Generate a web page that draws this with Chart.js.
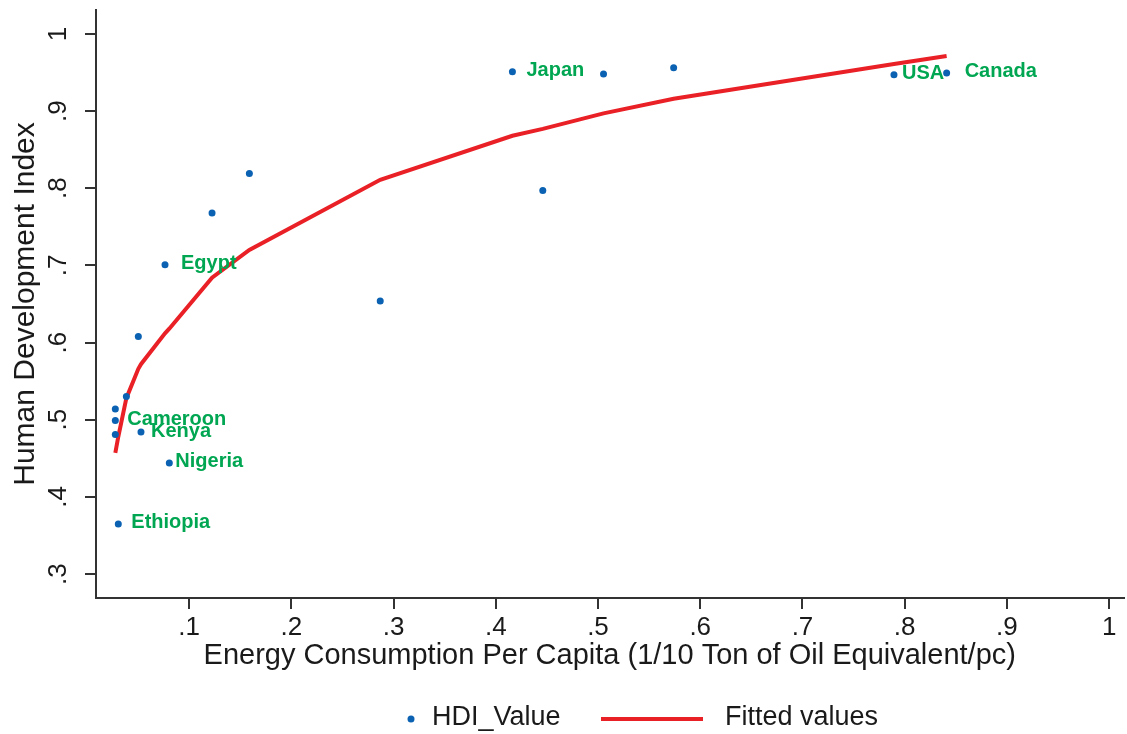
<!DOCTYPE html>
<html>
<head>
<meta charset="utf-8">
<title>HDI vs Energy Consumption</title>
<script src="https://cdn.jsdelivr.net/npm/chart.js@4.4.1/dist/chart.umd.min.js"></script>
<style>
  html, body { margin: 0; padding: 0; background: #fff; }
  #chart { display: block; background: #fff; }
</style>
</head>
<body>
<canvas id="chart" width="1127" height="734"></canvas>
<script>
// values
const energy = [0.0279, 0.0279, 0.0279, 0.0387, 0.0308, 0.053, 0.0807, 0.0504, 0.0765,
                0.1225, 0.159, 0.287, 0.4163, 0.446, 0.5054, 0.574, 0.7895, 0.841];
const hdi = [0.514, 0.499, 0.481, 0.530, 0.365, 0.484, 0.444, 0.608, 0.701,
             0.768, 0.819, 0.654, 0.951, 0.797, 0.948, 0.956, 0.947, 0.9495];
const country = ['', 'Cameroon', '', '', 'Ethiopia', 'Kenya', 'Nigeria', '', 'Egypt',
                 '', '', '', 'Japan', '', '', '', 'USA', 'Canada'];

// fitted line, read at each observed x
const fitEnergy = [0.0279, 0.0308, 0.0387, 0.0504, 0.053, 0.0765, 0.0807, 0.1225,
                   0.159, 0.287, 0.4163, 0.446, 0.5054, 0.574, 0.7895, 0.841];
const fitHdi = [0.457, 0.478, 0.528, 0.566, 0.572, 0.612, 0.618, 0.684,
                0.720, 0.811, 0.868, 0.877, 0.897, 0.916, 0.961, 0.9715];

const xTicks = [0.1, 0.2, 0.3, 0.4, 0.5, 0.6, 0.7, 0.8, 0.9, 1];
const xTickLabels = ['.1', '.2', '.3', '.4', '.5', '.6', '.7', '.8', '.9', '1'];
const yTicks = [0.3, 0.4, 0.5, 0.6, 0.7, 0.8, 0.9, 1];
const yTickLabels = ['.3', '.4', '.5', '.6', '.7', '.8', '.9', '1'];

const FONT = "'Liberation Sans', Arial, Helvetica, sans-serif";
const BLUE = '#0b62b3';
const RED = '#ea2027';
const GREEN = '#00a651';
const INK = '#1a1a1a';
const AXIS = '#333333';

// gap between a marker and its name (Stata placed them a bit unevenly)
const labelGap = { Cameroon: 12, Ethiopia: 13, Kenya: 10, Nigeria: 6, Egypt: 16, Japan: 14, USA: 8, Canada: 18 };

Chart.defaults.font.family = FONT;
Chart.defaults.color = INK;

// Stata draws the y labels turned on their side
const yTickLabelPlugin = {
    id: 'yTickLabels',
    afterDraw(chart) {
        const ctx = chart.ctx;
        const ys = chart.scales.y;
        const baseX = chart.chartArea.left - 30;
        ctx.save();
        ctx.font = '26px ' + FONT;
        ctx.fillStyle = INK;
        ctx.textAlign = 'center';
        ctx.textBaseline = 'alphabetic';
        yTicks.forEach((v, i) => {
            ctx.save();
            ctx.translate(baseX, ys.getPixelForValue(v));
            ctx.rotate(-Math.PI / 2);
            ctx.fillText(yTickLabels[i], 0, 0);
            ctx.restore();
        });
        ctx.restore();
    }
};

const countryLabelPlugin = {
    id: 'countryLabels',
    afterDatasetsDraw(chart) {
        const ctx = chart.ctx;
        const xs = chart.scales.x;
        const ys = chart.scales.y;
        ctx.save();
        ctx.font = 'bold 20px ' + FONT;
        ctx.fillStyle = GREEN;
        ctx.textAlign = 'left';
        ctx.textBaseline = 'middle';
        country.forEach((name, i) => {
            if (!name) return;
            const gap = labelGap[name] || 11;
            ctx.fillText(name, xs.getPixelForValue(energy[i]) + gap, ys.getPixelForValue(hdi[i]) - 1);
        });
        ctx.restore();
    }
};

const legendPlugin = {
    id: 'bottomLegend',
    afterDraw(chart) {
        const ctx = chart.ctx;
        const y = 718;
        ctx.save();
        ctx.fillStyle = BLUE;
        ctx.beginPath();
        ctx.arc(411, y + 1, 3.5, 0, Math.PI * 2);
        ctx.fill();

        ctx.strokeStyle = RED;
        ctx.lineWidth = 4;
        ctx.beginPath();
        ctx.moveTo(601, y + 1);
        ctx.lineTo(703, y + 1);
        ctx.stroke();

        ctx.font = '27px ' + FONT;
        ctx.fillStyle = INK;
        ctx.textAlign = 'left';
        ctx.textBaseline = 'middle';
        ctx.fillText('HDI_Value', 432, y);
        ctx.fillText('Fitted values', 725, y);
        ctx.restore();
    }
};

const ctx = document.getElementById('chart').getContext('2d');

new Chart(ctx, {
    type: 'scatter',
    data: {
        datasets: [{
            label: 'HDI_Value',
            data: energy.map((e, i) => ({ x: e, y: hdi[i] })),
            backgroundColor: BLUE,
            borderWidth: 0,
            pointRadius: 3.5,
            pointHoverRadius: 3.5
        }, {
            type: 'line',
            label: 'Fitted values',
            data: fitEnergy.map((e, i) => ({ x: e, y: fitHdi[i] })),
            borderColor: RED,
            borderWidth: 4,
            pointRadius: 0,
            fill: false,
            tension: 0
        }]
    },
    options: {
        responsive: false,
        animation: false,
        devicePixelRatio: 1,
        layout: { padding: { top: 10, left: 0, right: 0, bottom: 0 } },
        plugins: {
            legend: { display: false },
            tooltip: { enabled: false }
        },
        scales: {
            x: {
                type: 'linear',
                position: 'bottom',
                min: 0.009,
                max: 1.014,
                afterBuildTicks: (scale) => { scale.ticks = xTicks.map(v => ({ value: v })); },
                afterFit: (scale) => { scale.height = 136; },
                grid: { display: true, drawOnChartArea: false, drawTicks: true, tickLength: 11, color: AXIS, lineWidth: 2 },
                border: { display: true, color: AXIS, width: 2 },
                ticks: {
                    font: { size: 26 },
                    color: INK,
                    padding: 3,
                    maxRotation: 0,
                    callback: (value, index) => xTickLabels[index]
                },
                title: {
                    display: true,
                    text: 'Energy Consumption Per Capita (1/10 Ton of Oil Equivalent/pc)',
                    font: { size: 29 },
                    color: INK,
                    padding: { top: 0, bottom: 61 }
                }
            },
            y: {
                type: 'linear',
                min: 0.269,
                max: 1.031,
                afterBuildTicks: (scale) => { scale.ticks = yTicks.map(v => ({ value: v })); },
                afterFit: (scale) => { scale.width = 96; },
                grid: { display: true, drawOnChartArea: false, drawTicks: true, tickLength: 11, color: AXIS, lineWidth: 2 },
                border: { display: true, color: AXIS, width: 2 },
                ticks: { display: false },
                title: {
                    display: true,
                    text: 'Human Development Index',
                    font: { size: 30 },
                    color: INK,
                    padding: { top: 8, bottom: 0 }
                }
            }
        }
    },
    plugins: [yTickLabelPlugin, countryLabelPlugin, legendPlugin]
});
</script>
</body>
</html>
